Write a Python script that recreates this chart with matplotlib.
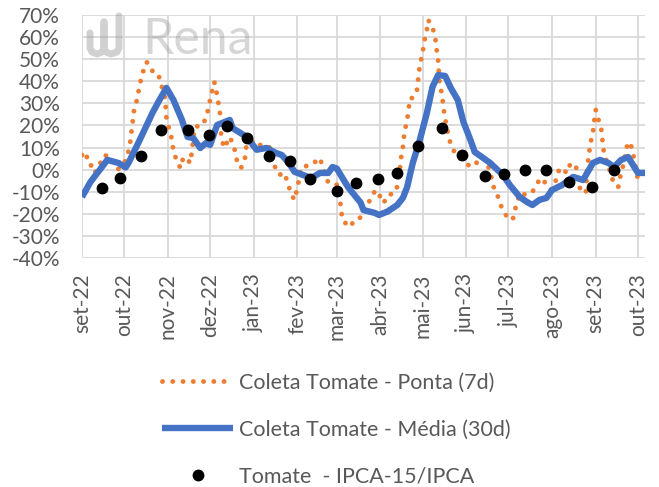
import matplotlib
matplotlib.use("Agg")
import matplotlib.pyplot as plt
from matplotlib.lines import Line2D
import pandas as pd

plt.rcParams['font.family'] = ['Lato', 'DejaVu Sans']

# ---------------- data ----------------
ponta_dates = [
    "2022-09-01", "2022-09-04", "2022-09-05", "2022-09-09", "2022-09-10", "2022-09-14",
    "2022-09-17", "2022-09-22", "2022-09-26", "2022-09-29", "2022-10-01", "2022-10-03",
    "2022-10-05", "2022-10-06", "2022-10-07", "2022-10-08", "2022-10-10", "2022-10-12",
    "2022-10-14", "2022-10-17", "2022-10-20", "2022-10-25", "2022-10-27", "2022-10-30",
    "2022-10-31", "2022-11-02", "2022-11-04", "2022-11-05", "2022-11-08", "2022-11-10",
    "2022-11-12", "2022-11-15", "2022-11-17", "2022-11-18", "2022-11-20", "2022-11-26",
    "2022-11-29", "2022-12-01", "2022-12-03", "2022-12-04", "2022-12-06", "2022-12-08",
    "2022-12-09", "2022-12-11", "2022-12-15", "2022-12-18", "2022-12-20", "2022-12-23",
    "2022-12-26", "2022-12-27", "2023-01-02", "2023-01-07", "2023-01-12", "2023-01-14",
    "2023-01-17", "2023-01-19", "2023-01-23", "2023-01-25", "2023-01-28", "2023-01-30",
    "2023-02-01", "2023-02-04", "2023-02-11", "2023-02-17", "2023-02-19", "2023-02-23",
    "2023-03-02", "2023-03-03", "2023-03-04", "2023-03-05", "2023-03-10", "2023-03-15",
    "2023-03-20", "2023-03-23", "2023-03-25", "2023-03-29", "2023-04-01", "2023-04-02",
    "2023-04-08", "2023-04-09", "2023-04-13", "2023-04-15", "2023-04-16", "2023-04-17",
    "2023-04-18", "2023-04-20", "2023-04-21", "2023-04-22", "2023-04-24", "2023-04-27",
    "2023-04-28", "2023-04-29", "2023-05-01", "2023-05-02", "2023-05-04", "2023-05-05",
    "2023-05-08", "2023-05-10", "2023-05-11", "2023-05-12", "2023-05-13", "2023-05-15",
    "2023-05-16", "2023-05-17", "2023-05-18", "2023-05-21", "2023-05-24", "2023-05-31",
    "2023-06-05", "2023-06-09", "2023-06-13", "2023-06-16", "2023-06-19", "2023-06-21",
    "2023-06-24", "2023-06-26", "2023-06-29", "2023-07-04", "2023-07-06", "2023-07-09",
    "2023-07-14", "2023-07-18", "2023-07-22", "2023-07-25", "2023-07-28", "2023-07-31",
    "2023-08-05", "2023-08-06", "2023-08-12", "2023-08-14", "2023-08-18", "2023-08-21",
    "2023-08-25", "2023-08-26", "2023-08-27", "2023-08-28", "2023-08-30", "2023-08-31",
    "2023-09-01", "2023-09-03", "2023-09-05", "2023-09-06", "2023-09-07", "2023-09-10",
    "2023-09-12", "2023-09-15", "2023-09-17", "2023-09-19", "2023-09-21", "2023-09-22",
    "2023-09-24", "2023-09-26", "2023-09-28", "2023-10-01", "2023-10-03",
]
ponta_values = [
    6.6, 8.0, 3.0, 1.2, -1.5, 3.0,
    6.6, 5.3, 0.0, 1.2, 3.0, 5.7,
    11.2, 16.6, 21.6, 27.0, 31.5, 38.3,
    43.7, 48.7, 45.0, 43.7, 39.2, 32.4,
    23.4, 18.0, 13.4, 8.0, 3.0, 0.7,
    5.7, 4.4, 3.0, 8.0, 19.3, 20.2,
    25.6, 31.5, 37.0, 39.7, 33.8, 25.6,
    14.3, 9.8, 14.8, 10.3, 4.4, 0.7,
    5.7, 12.0, 13.4, 10.3, 10.3, 4.4,
    0.0, -2.4, -1.5, -6.0, -11.5, -13.7,
    -8.2, 1.2, 2.1, 5.3, 1.2, -6.0,
    -7.0, -12.4, -17.4, -22.8, -26.0, -22.0,
    -21.5, -16.9, -12.4, -9.2, -12.4, -15.0,
    -12.8, -9.2, -7.9, 1.2, 6.6, 10.3,
    16.6, 22.5, 27.0, 32.4, 32.4, 36.0,
    41.5, 47.4, 52.8, 57.8, 63.2, 67.7,
    64.6, 59.6, 54.2, 49.6, 39.7, 32.9,
    27.0, 23.4, 19.3, 11.2, 7.5, 3.0,
    1.2, 3.5, 5.7, 3.0, -3.8, -9.2,
    -12.8, -16.9, -20.5, -22.8, -17.4, -10.6,
    -11.5, -10.1, -5.6, -3.8, -7.0, -9.2,
    -3.3, 0.7, -1.5, 3.0, 1.2, -9.2,
    -10.6, 1.2, 5.7, 11.2, 17.0, 22.5,
    27.0, 22.5, 18.0, 12.0, 6.6, 2.1,
    -3.3, -7.0, -7.9, -1.5, 3.0, 7.5,
    12.5, 11.2, 5.7, -4.7, -7.0,
]

media_dates = [
    "2022-09-01", "2022-09-07", "2022-09-19", "2022-09-27", "2022-10-02", "2022-10-04",
    "2022-10-12", "2022-10-21", "2022-10-26", "2022-10-31", "2022-11-05", "2022-11-11",
    "2022-11-15", "2022-11-19", "2022-11-24", "2022-11-28", "2022-12-01", "2022-12-06",
    "2022-12-15", "2022-12-17", "2022-12-27", "2023-01-03", "2023-01-10", "2023-01-17",
    "2023-01-21", "2023-01-26", "2023-01-30", "2023-02-05", "2023-02-11", "2023-02-17",
    "2023-02-23", "2023-02-26", "2023-03-01", "2023-03-09", "2023-03-18", "2023-03-20",
    "2023-03-28", "2023-03-31", "2023-04-06", "2023-04-13", "2023-04-17", "2023-04-20",
    "2023-04-24", "2023-04-29", "2023-05-04", "2023-05-08", "2023-05-12", "2023-05-17",
    "2023-05-21", "2023-05-26", "2023-05-30", "2023-06-04", "2023-06-07", "2023-06-13",
    "2023-06-18", "2023-06-23", "2023-06-27", "2023-07-02", "2023-07-09", "2023-07-14",
    "2023-07-18", "2023-07-23", "2023-07-28", "2023-08-01", "2023-08-08", "2023-08-16",
    "2023-08-23", "2023-08-30", "2023-09-04", "2023-09-10", "2023-09-14", "2023-09-19",
    "2023-09-24", "2023-10-01", "2023-10-06",
]
media_values = [
    -12.4, -5.6, 4.4, 3.0, 1.0, 3.0,
    13.4, 25.6, 31.5, 37.0, 31.5, 22.5,
    14.8, 14.3, 9.8, 12.0, 11.2, 20.2,
    22.5, 18.8, 14.8, 9.0, 9.8, 7.5,
    6.6, 3.0, -1.0, -2.4, -3.8, -1.5,
    -1.5, 1.2, 0.5, -7.9, -15.0, -18.3,
    -19.6, -20.5, -19.0, -16.0, -12.8, -7.9,
    3.0, 13.4, 25.6, 37.4, 42.8, 42.4,
    37.0, 31.5, 21.6, 13.4, 8.0, 5.3,
    3.0, 0.0, -2.4, -7.0, -12.4, -14.6,
    -16.0, -13.7, -12.8, -9.2, -7.0, -3.3,
    -4.7, 3.0, 4.4, 3.0, 1.2, 4.4,
    5.7, -1.5, -1.5,
]

ipca_dates = [
    "2022-09-15", "2022-09-28", "2022-10-13", "2022-10-27", "2022-11-15", "2022-11-30",
    "2022-12-13", "2022-12-27", "2023-01-12", "2023-01-27", "2023-02-10", "2023-03-01",
    "2023-03-15", "2023-03-30", "2023-04-13", "2023-04-28", "2023-05-15", "2023-05-29",
    "2023-06-14", "2023-06-28", "2023-07-13", "2023-07-28", "2023-08-13", "2023-08-29",
    "2023-09-14",
]
ipca_values = [
    -8.2, -3.8, 6.2, 18.0, 18.0, 15.7,
    19.8, 14.3, 6.2, 4.0, -4.2, -9.7,
    -6.0, -4.2, -1.5, 10.7, 18.8, 6.6,
    -2.9, -2.0, 0.0, 0.0, -5.6, -7.9,
    0.0,
]

month_labels = ["set-22", "out-22", "nov-22", "dez-22", "jan-23", "fev-23", "mar-23",
                "abr-23", "mai-23", "jun-23", "jul-23", "ago-23", "set-23", "out-23"]
y_ticks = [-40, -30, -20, -10, 0, 10, 20, 30, 40, 50, 60, 70]

series_labels = ["Coleta Tomate - Ponta (7d)", "Coleta Tomate - Média (30d)",
                 "Tomate  - IPCA-15/IPCA"]

# ---------------- plot ----------------
W, H = 659, 487
fig = plt.figure(figsize=(W / 100, H / 100), dpi=100)
ax = fig.add_axes([82 / W, 1 - 258 / H, (645 - 82) / W, (258 - 15) / H])

ORANGE = "#ED7D31"
BLUE = "#4472C4"
GRID = "#D9D9D9"
TXT = "#595959"

pd_ponta = pd.to_datetime(ponta_dates)
pd_media = pd.to_datetime(media_dates)
pd_ipca = pd.to_datetime(ipca_dates)

l1, = ax.plot(pd_ponta, ponta_values, color=ORANGE, lw=3.5,
              linestyle=(0, (0.01, 2.1)), dash_capstyle="round", zorder=3)
l2, = ax.plot(pd_media, media_values, color=BLUE, lw=4.6,
              solid_joinstyle="round", solid_capstyle="butt", zorder=4)
l3, = ax.plot(pd_ipca, ipca_values, linestyle="none", marker="o", ms=7.5,
              color="black", zorder=5)

ticks = pd.date_range("2022-09-01", "2023-10-01", freq="MS")
ax.set_xticks(ticks)
ax.set_xticklabels(month_labels, rotation=90, ha="center", va="top")
ax.set_xlim(pd.Timestamp("2022-09-01"), pd.Timestamp("2023-10-06"))
ax.set_ylim(-40, 70)
ax.set_yticks(y_ticks)
ax.set_yticklabels([f"{v}%" for v in y_ticks])

ax.grid(True, color=GRID, lw=1.3)
ax.set_axisbelow(True)
for s in ax.spines.values():
    s.set_visible(False)
ax.tick_params(axis="both", length=0, labelsize=15, colors=TXT)
ax.tick_params(axis="x", pad=11)
ax.tick_params(axis="y", pad=16)

# watermark
fig.text(142 / W, 1 - 54 / H, "Rena", fontsize=36,
         color="#9a9a9a", alpha=0.4, ha="left", va="baseline", zorder=1)
logo_x = [90, 90, 92, 97, 102, 104, 104, 104, 106, 111, 117, 119, 119]
logo_y = [33, 48, 52, 54, 52, 48, 22, 48, 52, 54, 52, 48, 16]
fig.add_artist(Line2D([x / W for x in logo_x], [1 - y / H for y in logo_y],
                      transform=fig.transFigure, color="#9a9a9a", alpha=0.45,
                      lw=5, solid_joinstyle="round", solid_capstyle="round"))

fig.legend([l1, l2, l3], series_labels, loc="upper left",
           bbox_to_anchor=(162 / W, 1 - 373 / H), frameon=False,
           fontsize=15.5, labelcolor=TXT, handlelength=3.3, handletextpad=0.28,
           labelspacing=1.25, borderpad=0, borderaxespad=0, numpoints=1)

fig.savefig("out.png", dpi=100)
